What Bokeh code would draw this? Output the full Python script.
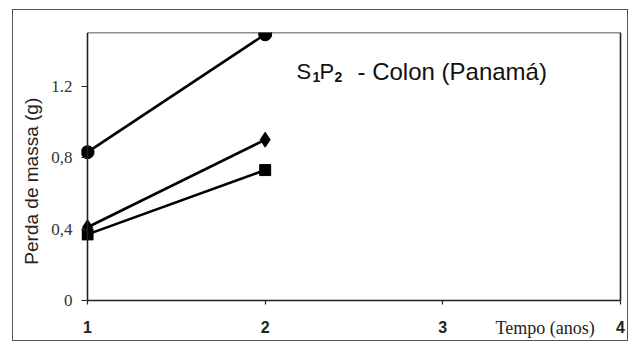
from bokeh.plotting import figure
from bokeh.models import FixedTicker, Label, LinearAxis
from bokeh.embed import file_html
from bokeh.resources import INLINE

# ---- data ----
tempo = [1, 2]
serie_circulo = [0.83, 1.49]
serie_losango = [0.41, 0.90]
serie_quadrado = [0.37, 0.73]

x_ticks = [1, 2, 3, 4]
x_tick_labels = ["1", "2", "3", "4"]
y_ticks = [0, 0.4, 0.8, 1.2]
y_tick_labels = ["0", "0,4", "0,8", "1.2"]

titulo_partes = ["S", "1", "P", "2", "- Colon (Panamá)"]
y_label = "Perda de massa (g)"
x_label = "Tempo (anos)"

# ---- layout ----
OX, OY = 13, 10                  # canvas origin on the page (inside the 1px border)
W, H = 616, 332
ML, MR, MT, MB = 68, 3, 22, 2
XMIN, XMAX, YMIN, YMAX = 1, 4, 0, 1.5
PAD_X = 0.034                    # frame reaches a little past the axis ends
X0, X1, Y0, Y1 = XMIN - PAD_X, XMAX + PAD_X, -0.224, YMAX

p = figure(width=W, height=H, x_range=(X0, X1), y_range=(Y0, Y1),
           output_backend="svg", toolbar_location=None,
           min_border_left=ML, min_border_right=MR,
           min_border_top=MT, min_border_bottom=MB)
p.margin = (OY - 1, 0, 0, OX - 1)
p.styles = {"border": "1px solid #555"}
p.xgrid.visible = False
p.ygrid.visible = False
p.background_fill_color = "white"
p.border_fill_color = "white"
p.outline_line_color = None

LC, LW = "#222", 1.6

# x axis at y = 0, drawn inside the frame
xa = p.xaxis[0]
xa.fixed_location = YMIN
xa.bounds = (XMIN, XMAX)
xa.axis_line_color = LC
xa.axis_line_width = LW
xa.major_tick_line_color = LC
xa.major_tick_line_width = 1.2
xa.major_tick_in = 0
xa.major_tick_out = 4
xa.minor_tick_line_color = None
xa.ticker = FixedTicker(ticks=x_ticks)
xa.major_label_overrides = {t: l for t, l in zip(x_ticks, x_tick_labels)}
xa.major_label_text_font = "Liberation Sans"
xa.major_label_text_font_style = "bold"
xa.major_label_text_font_size = "16px"
xa.major_label_text_color = "#222"
xa.major_label_standoff = 17

# y axis in the side panel: tick labels, ticks reaching in to x = 1, axis title
ya = p.yaxis[0]
ya.axis_line_color = None
ya.bounds = (YMIN, YMAX)
ya.major_tick_line_color = LC
ya.major_tick_line_width = 1.2
ya.major_tick_in = 6
ya.major_tick_out = 0
ya.minor_tick_line_color = None
ya.ticker = FixedTicker(ticks=y_ticks)
ya.major_label_overrides = {t: l for t, l in zip(y_ticks, y_tick_labels)}
ya.major_label_text_font = "Liberation Serif"
ya.major_label_text_font_size = "17px"
ya.major_label_text_color = "#333"
ya.major_label_standoff = 9
ya.axis_label = "\u00a0\u00a0" + y_label
ya.axis_label_text_font = "Liberation Sans"
ya.axis_label_text_font_style = "normal"
ya.axis_label_text_font_size = "19px"
ya.axis_label_text_color = "#222"
ya.axis_label_standoff = 6

# box edges: left (x = 1), top and right
def edge(loc, bounds):
    return LinearAxis(fixed_location=loc, bounds=bounds, ticker=FixedTicker(ticks=[]),
                      major_tick_line_color=None, minor_tick_line_color=None,
                      axis_line_color=LC, axis_line_width=LW)

p.add_layout(edge(XMIN, (YMIN, YMAX)), "left")
p.add_layout(edge(YMAX, (XMIN, XMAX)), "above")
p.add_layout(edge(XMAX, (YMIN, YMAX)), "right")

# ---- series ----
lw = 2.6
p.line(tempo, serie_circulo, line_color="black", line_width=lw)
p.scatter(tempo, serie_circulo, marker="circle", size=13, color="black")
p.line(tempo, serie_losango, line_color="black", line_width=lw)
p.scatter(tempo, serie_losango, marker="diamond", size=15, color="black")
p.line(tempo, serie_quadrado, line_color="black", line_width=lw)
p.scatter(tempo, serie_quadrado, marker="square", size=11, color="black")

# ---- x-axis title, in the labels row (page px -> canvas px) ----
p.add_layout(Label(x=494 - OX, y=326 - OY, text=x_label,
                   x_units="canvas", y_units="canvas",
                   text_font="Liberation Serif", text_font_size="18px",
                   text_color="#222", text_align="left", text_baseline="middle"))

# ---- title with subscripts ----
xs = [295, 311, 318, 333, 356]
bases = [70, 75, 70, 75, 70]
sizes = [22, 14, 22, 14, 24]
styles = ["normal", "bold", "normal", "bold", "normal"]
for t, x, b, s, st in zip(titulo_partes, xs, bases, sizes, styles):
    p.add_layout(Label(x=x - OX, y=b - OY, text=t, text_font="Liberation Sans",
                       x_units="canvas", y_units="canvas",
                       text_font_size=f"{s}px", text_font_style=st,
                       text_color="#111",
                       text_align="left", text_baseline="alphabetic"))

open("out.html", "w").write(file_html(p, INLINE))
